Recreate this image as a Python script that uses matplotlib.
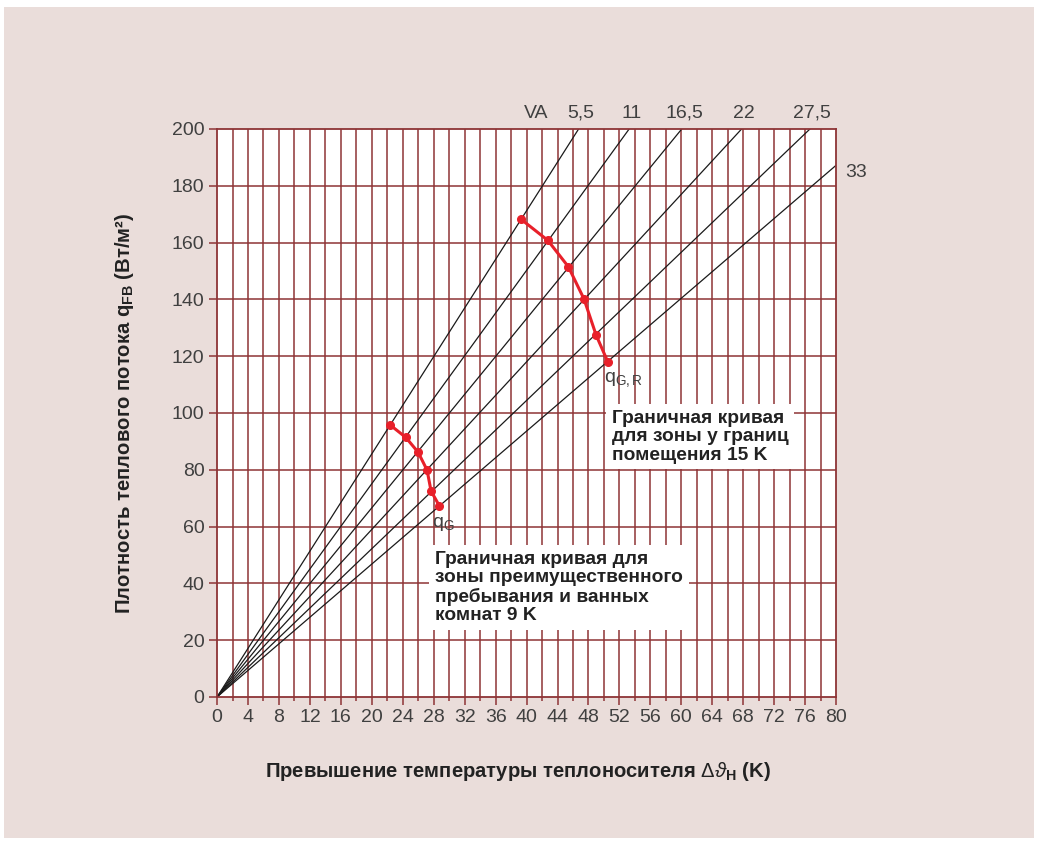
import matplotlib
matplotlib.use("Agg")
import matplotlib.pyplot as plt
import numpy as np

# Heat flux lines q = k * dT for each laying distance VA (cm)
va_labels = ["5,5", "11", "16,5", "22", "27,5", "33"]
slopes = [4.28, 3.755, 3.33, 2.95, 2.61, 2.34]

# Boundary curve for living zone / bathrooms (9 K)
qg_x = [22.36, 24.39, 25.98, 27.14, 27.66, 28.73]
qg_y = [95.8, 91.4, 86.2, 79.9, 72.5, 67.3]

# Boundary curve for edge zone (15 K)
qgr_x = [39.29, 42.74, 45.40, 47.43, 48.98, 50.50]
qgr_y = [168.2, 160.8, 151.5, 140.1, 127.5, 118.0]

x_ticks = list(range(0, 81, 4))
y_ticks = list(range(0, 201, 20))

plt.rcParams['font.family'] = ['Liberation Sans Narrow', 'Liberation Sans', 'DejaVu Sans']
plt.rcParams['mathtext.fontset'] = 'custom'
plt.rcParams['mathtext.rm'] = 'Liberation Sans'
plt.rcParams['mathtext.bf'] = 'Liberation Sans:bold'
plt.rcParams['mathtext.it'] = 'Liberation Sans:italic'

grid_col = '#8e3436'
txt_col = '#404040'
bg_col = '#eaddda'
bold_fam = ['Liberation Sans', 'DejaVu Sans']

fig = plt.figure(figsize=(10.4, 8.44), dpi=100)
fig.patch.set_facecolor('white')
# pink panel behind everything
panel = plt.Rectangle((0.004, 0.007), 0.99, 0.985, transform=fig.transFigure,
                      facecolor=bg_col, edgecolor='none', zorder=-10)
fig.patches.append(panel)

ax = fig.add_axes([0.2087, 0.1742, 0.5952, 0.673])
ax.set_facecolor('white')
ax.set_xlim(0, 80)
ax.set_ylim(0, 200)

# grid: vertical every 2 K, horizontal every 20
for gx in np.arange(2, 80, 2):
    ax.axvline(gx, color=grid_col, lw=1.1, zorder=1)
for gy in y_ticks[1:-1]:
    ax.axhline(gy, color=grid_col, lw=1.1, zorder=1)
for s in ax.spines.values():
    s.set_color(grid_col)
    s.set_linewidth(1.3)

ax.set_xticks(x_ticks)
ax.set_xticks(np.arange(2, 80, 4), minor=True)
ax.set_yticks(y_ticks)
ax.tick_params(axis='both', which='major', length=6, width=1.1, color=grid_col,
               labelsize=14, labelcolor=txt_col, pad=3)
ax.tick_params(axis='x', which='minor', length=3, width=1.1, color=grid_col)

# VA lines
xs = np.array([0, 80])
for k in slopes:
    ax.plot(xs, k * xs, color='#1a1a1a', lw=0.9, zorder=2)

# line labels at the top
for lab, k in zip(va_labels, slopes):
    xe = 200 / k
    if xe <= 80:
        ax.text(xe + 0.3, 205.6, lab, ha='center', va='center', fontsize=14, color=txt_col)
    else:
        ax.text(81.2, 80 * k - 2.5, lab, ha='left', va='center', fontsize=14, color=txt_col)
ax.text(41.2, 205.6, "VA", ha='center', va='center', fontsize=14, color=txt_col)

# boundary curves
red = '#e8202a'
ax.plot(qg_x, qg_y, color=red, lw=2.2, marker='o', ms=5.5, zorder=4)
ax.plot(qgr_x, qgr_y, color=red, lw=2.2, marker='o', ms=5.5, zorder=4)

ax.text(27.8, 64, r"q$_\mathrm{G}$", ha='left', va='top', fontsize=14, color=txt_col)
ax.text(50.0, 115, r"q$_\mathrm{G,R}$", ha='left', va='top', fontsize=14, color=txt_col)

box = dict(boxstyle='square,pad=0.3', facecolor='white', edgecolor='none')
ax.text(28.2, 51.4, "Граничная кривая для\nзоны преимущественного\nпребывания и ванных\nкомнат 9 K",
        ha='left', va='top', fontsize=13.8, fontweight='bold', color='#222222',
        family=bold_fam, linespacing=1.1, bbox=box, zorder=5)
ax.text(51.0, 101, "Граничная кривая\nдля зоны у границ\nпомещения 15 K",
        ha='left', va='top', fontsize=13.8, fontweight='bold', color='#222222',
        family=bold_fam, linespacing=1.1, bbox=box, zorder=5)

fig.text(0.498, 0.086, r"Превышение температуры теплоносителя $\Delta\vartheta_\mathbf{H}$ (K)",
         ha='center', va='center', fontsize=14.6, fontweight='bold', color='#222222',
         family=bold_fam)
fig.text(0.12, 0.51, r"Плотность теплового потока q$_\mathbf{FB}$ (Вт/м²)",
         ha='center', va='center', rotation=90, fontsize=14.6, fontweight='bold',
         color='#222222', family=bold_fam)

fig.savefig('out.png', dpi=100, facecolor=fig.get_facecolor())
